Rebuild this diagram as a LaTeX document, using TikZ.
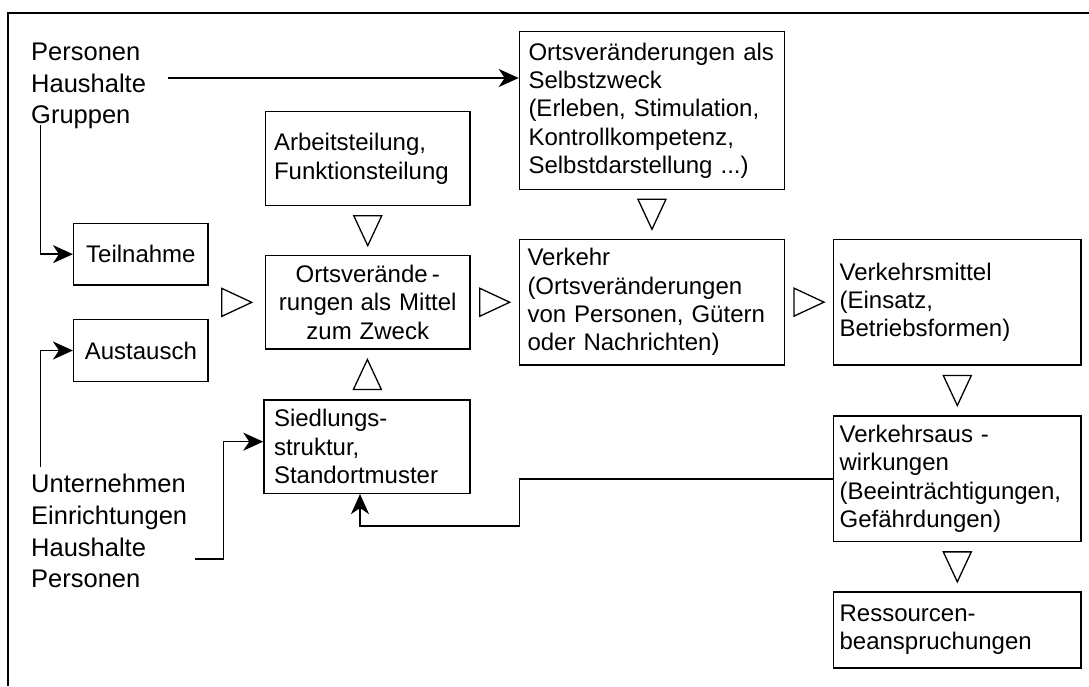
\documentclass[tikz,border=0pt]{standalone}
\usepackage{fontspec}
\setmainfont{Liberation Sans}
\usetikzlibrary{arrows.meta,calc}
\begin{document}
\begin{tikzpicture}[x=1pt,y=-1pt,
  box/.style={draw, line width=1.5pt, rectangle, font=\fontsize{24}{28.3}\selectfont, inner ysep=0pt},
  lbox/.style={box, align=left},
  cbox/.style={box, align=center},
  lbl/.style={font=\fontsize{25.5}{31.8}\selectfont, align=left, inner sep=0pt, anchor=west},
  arr/.style={line width=1.6pt, -{Stealth[length=20pt,width=18pt,inset=6pt]}},
  frame/.style={line width=2pt},
  tri line/.style={line width=1.3pt, fill=white, line join=miter},
  tri/.pic={\draw[tri line] (15,0) -- (-15,14) -- (-15,-14) -- cycle;}
]
\useasboundingbox (0,0) rectangle (1089,686);
\fill[white] (0,0) rectangle (1089,686);
% frame (open at right and bottom)
\draw[frame] (7.7,686) -- (7.7,13.3) -- (1089,13.3);

% boxes
\node[lbox, minimum width=264.9pt, minimum height=157.6pt, text width=246.9pt, inner xsep=9pt] (sz) at (651.95,110.5)
  {Ortsveränderungen als\\Selbstzweck\\(Erleben, Stimulation,\\Kontrollkompetenz,\\Selbstdarstellung ...)};
\node[lbox, minimum width=204.5pt, minimum height=94pt, text width=187.5pt, inner xsep=8.5pt] (at) at (367.75,158.7)
  {Arbeitsteilung,\\Funktionsteilung};
\node[cbox, minimum width=134.3pt, minimum height=61.7pt] (tn) at (140.85,254.15) {Teilnahme};
\node[cbox, minimum width=134.3pt, minimum height=62.4pt] (au) at (140.85,350.5) {Austausch};
\node[cbox, minimum width=204.5pt, minimum height=93.3pt, text width=192pt, inner xsep=6.25pt] (mz) at (367.75,302.35)
  {Ortsverände\,-\\rungen\hspace{-1pt} als Mittel\\zum Zweck};
\node[lbox, minimum width=206pt, minimum height=93.3pt, text width=186pt, inner xsep=10pt] (sd) at (367,446.65)
  {Siedlungs-\\struktur,\\Standortmuster};
\node[lbox, minimum width=264.9pt, minimum height=125.7pt, text width=248.9pt, inner xsep=8pt] (vk) at (651.95,302.15)
  {Verkehr\\(Ortsveränderungen\\von Personen, Gütern\\oder Nachrichten)};
\node[lbox, minimum width=247.4pt, minimum height=125.7pt, text width=235.4pt, inner xsep=6pt] (vm) at (957.3,302.15)
  {Verkehrsmittel\\(Einsatz,\\Betriebsformen)};
\node[lbox, minimum width=247.4pt, minimum height=125.7pt, text width=235.4pt, inner xsep=6pt] (va) at (957.3,478.85)
  {Verkehrsaus -\\wirkungen\\(Beeinträchtigungen,\\Gefährdungen)};
\node[lbox, minimum width=247.4pt, minimum height=76pt, text width=235.4pt, inner xsep=6pt] (rs) at (957.3,630)
  {Ressourcen-\\beanspruchungen};

% free texts
\node[lbl] (pg) at (31,86) {Personen\\Haushalte\\Gruppen};
\node[lbl] (ue) at (31,531) {Unternehmen\\Einrichtungen\\Haushalte\\Personen};

% open triangles
\pic[rotate=-90] at ($(at.south)!0.5!(mz.north)$) {tri};
\pic[rotate=90] at ($(sd.north)!0.5!(mz.south)$) {tri};
\pic at ($(tn.east|-mz.west)!0.5!(mz.west)$) {tri};
\pic at ($(mz.east)!0.5!(vk.west)$) {tri};
\pic[rotate=-90] at ($(sz.south)!0.5!(vk.north)$) {tri};
\pic at ($(vk.east)!0.5!(vm.west)$) {tri};
\pic[rotate=-90] at ($(vm.south)!0.5!(va.north)$) {tri};
\pic[rotate=-90] at ($(va.south)!0.5!(rs.north)$) {tri};

% connectors
\coordinate (pgout) at (168,78);
\draw[arr] (pgout) -- (pgout -| sz.west);
\coordinate (gdown) at (40.3,125);
\draw[arr] (gdown) |- (tn.west);
\coordinate (uup) at (40.3,467);
\draw[arr] (uup) |- (au.west);
\coordinate (hout) at (195.4,559);
\coordinate (sdin) at ($(sd.west)+(0,-5)$);
\draw[arr] (hout) -- ++(28,0) |- (sdin);
\coordinate (fb) at (519.5,525.7);
\coordinate (sdbot) at ($(sd.south)+(-7,0)$);
\draw[arr] (va.west) -| (fb) -| (sdbot);
\end{tikzpicture}
\end{document}
